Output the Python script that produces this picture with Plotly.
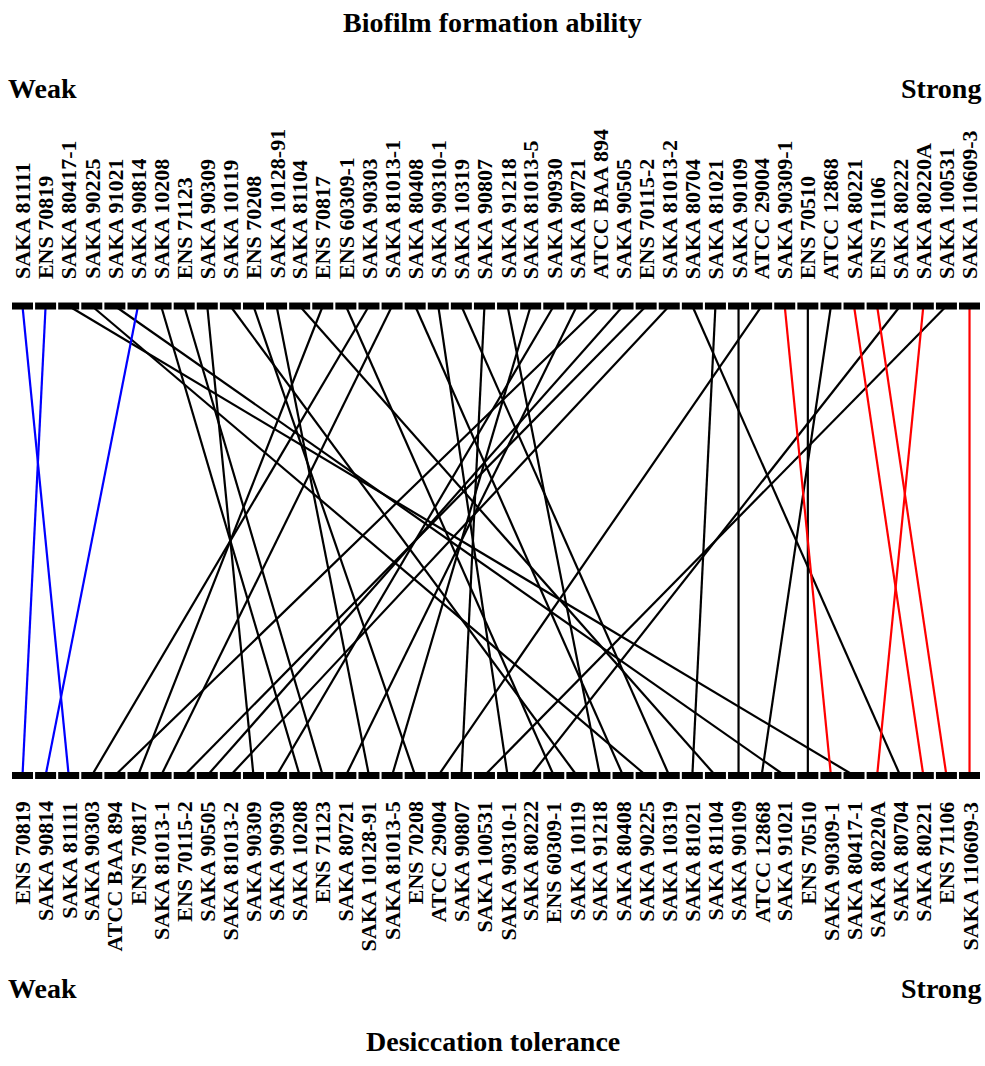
import plotly.graph_objects as go

# Strain ranking by biofilm formation ability (top, weak -> strong)
biofilm_order = [
    "SAKA 81111", "ENS 70819", "SAKA 80417-1", "SAKA 90225", "SAKA 91021",
    "SAKA 90814", "SAKA 10208", "ENS 71123", "SAKA 90309", "SAKA 10119",
    "ENS 70208", "SAKA 10128-91", "SAKA 81104", "ENS 70817", "ENS 60309-1",
    "SAKA 90303", "SAKA 81013-1", "SAKA 80408", "SAKA 90310-1", "SAKA 10319",
    "SAKA 90807", "SAKA 91218", "SAKA 81013-5", "SAKA 90930", "SAKA 80721",
    "ATCC BAA 894", "SAKA 90505", "ENS 70115-2", "SAKA 81013-2", "SAKA 80704",
    "SAKA 81021", "SAKA 90109", "ATCC 29004", "SAKA 90309-1", "ENS 70510",
    "ATCC 12868", "SAKA 80221", "ENS 71106", "SAKA 80222", "SAKA 80220A",
    "SAKA 100531", "SAKA 110609-3",
]

# Strain ranking by desiccation tolerance (bottom, weak -> strong)
desiccation_order = [
    "ENS 70819", "SAKA 90814", "SAKA 81111", "SAKA 90303", "ATCC BAA 894",
    "ENS 70817", "SAKA 81013-1", "ENS 70115-2", "SAKA 90505", "SAKA 81013-2",
    "SAKA 90309", "SAKA 90930", "SAKA 10208", "ENS 71123", "SAKA 80721",
    "SAKA 10128-91", "SAKA 81013-5", "ENS 70208", "ATCC 29004", "SAKA 90807",
    "SAKA 100531", "SAKA 90310-1", "SAKA 80222", "ENS 60309-1", "SAKA 10119",
    "SAKA 91218", "SAKA 80408", "SAKA 90225", "SAKA 10319", "SAKA 81021",
    "SAKA 81104", "SAKA 90109", "ATCC 12868", "SAKA 91021", "ENS 70510",
    "SAKA 90309-1", "SAKA 80417-1", "SAKA 80220A", "SAKA 80704", "SAKA 80221",
    "ENS 71106", "SAKA 110609-3",
]

# Highlighted groups
weak_both = ["ENS 70819", "SAKA 90814", "SAKA 81111"]
strong_both = ["SAKA 90309-1", "SAKA 80221", "SAKA 80220A", "ENS 71106", "SAKA 110609-3"]

TOP_Y = 1
BOT_Y = 0

FONT = "Liberation Serif, Times New Roman, serif"


def segs(names):
    xs, ys = [], []
    for n in names:
        xs += [biofilm_order.index(n), desiccation_order.index(n), None]
        ys += [TOP_Y, BOT_Y, None]
    return xs, ys


others = [n for n in biofilm_order if n not in weak_both and n not in strong_both]

fig = go.Figure()
for names, col in [(others, "black"), (weak_both, "#0000FF"), (strong_both, "#FF0000")]:
    xs, ys = segs(names)
    fig.add_trace(go.Scatter(x=xs, y=ys, mode="lines",
                             line=dict(color=col, width=2.2),
                             hoverinfo="skip", showlegend=False))

n = len(biofilm_order)
fig.add_trace(go.Scatter(
    x=list(range(n)) + list(range(n)),
    y=[TOP_Y] * n + [BOT_Y] * n,
    mode="markers",
    marker=dict(symbol="line-ew", size=15,
                line=dict(color="black", width=7)),
    hoverinfo="skip", showlegend=False))

lab = dict(family=FONT, size=22, color="black", weight="bold")
annotations = []
for i, name in enumerate(biofilm_order):
    annotations.append(dict(x=i, y=TOP_Y, xref="x", yref="y", text=name,
                            textangle=-90, showarrow=False,
                            xanchor="center", yanchor="bottom", yshift=25,
                            font=lab))
for i, name in enumerate(desiccation_order):
    annotations.append(dict(x=i, y=BOT_Y, xref="x", yref="y", text=name,
                            textangle=-90, showarrow=False,
                            xanchor="center", yanchor="top", yshift=-24,
                            font=lab))

big = dict(family=FONT, size=28, color="black", weight="bold")
annotations += [
    dict(x=0.5, y=1 - 22 / 1066, xref="paper", yref="paper", text="Biofilm formation ability",
         showarrow=False, xanchor="center", yanchor="middle", font=big),
    dict(x=0.5, y=1 - 1041 / 1066, xref="paper", yref="paper", text="Desiccation tolerance",
         showarrow=False, xanchor="center", yanchor="middle", font=big),
    dict(x=6 / 985, y=1 - 88 / 1066, xref="paper", yref="paper", text="Weak",
         showarrow=False, xanchor="left", yanchor="middle", font=big),
    dict(x=983 / 985, y=1 - 88 / 1066, xref="paper", yref="paper", text="Strong",
         showarrow=False, xanchor="right", yanchor="middle", font=big),
    dict(x=6 / 985, y=1 - 988 / 1066, xref="paper", yref="paper", text="Weak",
         showarrow=False, xanchor="left", yanchor="middle", font=big),
    dict(x=983 / 985, y=1 - 988 / 1066, xref="paper", yref="paper", text="Strong",
         showarrow=False, xanchor="right", yanchor="middle", font=big),
]

fig.update_layout(
    width=985, height=1066,
    margin=dict(l=0, r=0, t=0, b=0),
    paper_bgcolor="white", plot_bgcolor="white",
    xaxis=dict(range=[-0.974, 41.67], visible=False, fixedrange=True),
    yaxis=dict(range=[-0.6187, 1.6518], visible=False, fixedrange=True),
    annotations=annotations,
)

fig.write_html(
    "out.html",
    config={"displayModeBar": False},
    post_script="document.body.style.margin='0px';document.body.style.overflow='hidden';",
)
